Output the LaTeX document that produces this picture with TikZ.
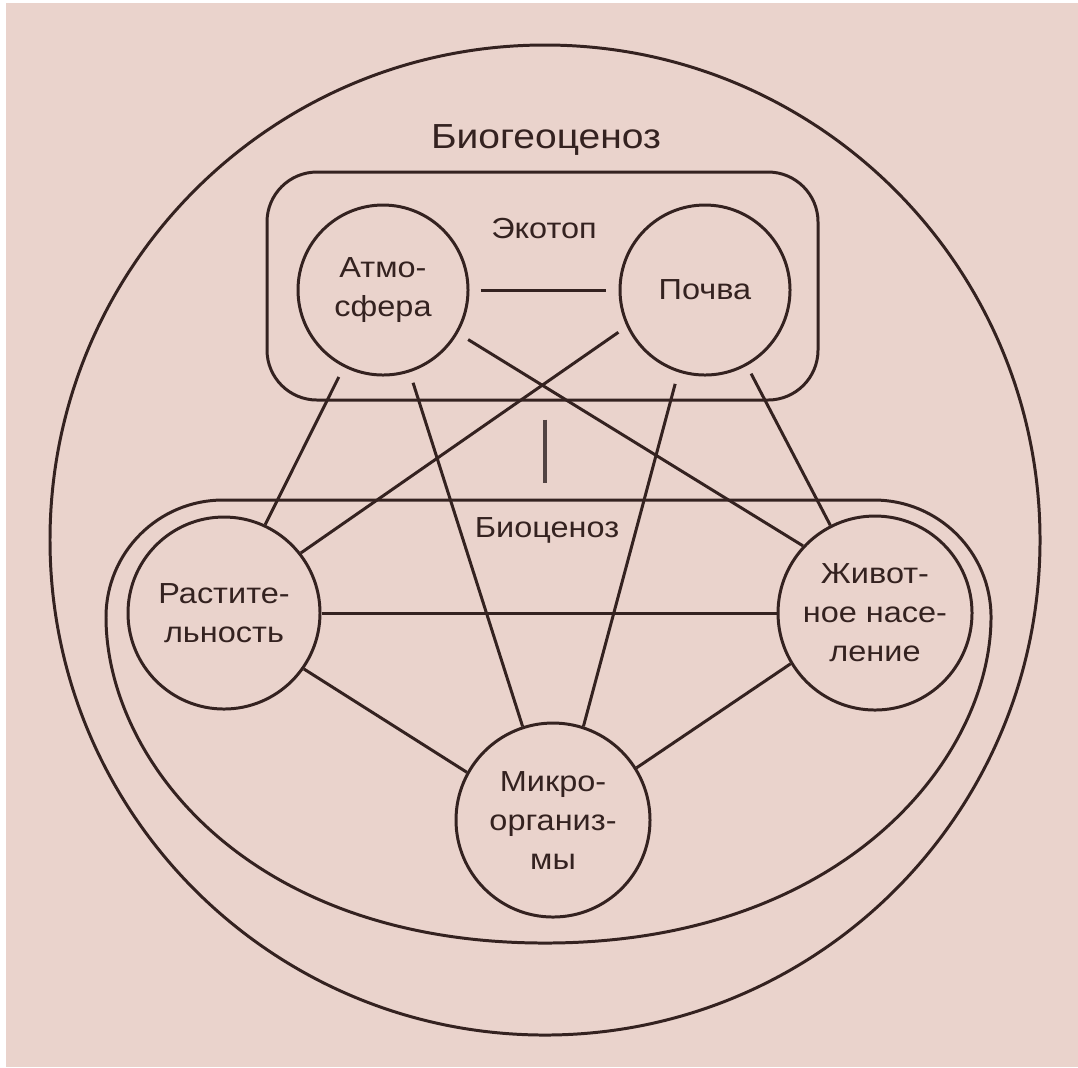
\documentclass[tikz,border=0pt]{standalone}
\usepackage{fontspec}
\setmainfont{Liberation Sans}[FakeStretch=1.12]
\usetikzlibrary{calc}
\definecolor{bg}{RGB}{234,211,204}
\definecolor{ink}{RGB}{52,34,32}
\tikzset{
  ln/.style={draw=ink, line width=0.85pt},
  bub/.style={circle, draw=ink, line width=0.85pt, inner sep=0pt, align=center, text=ink,
    font=\fontsize{8.25pt}{11.1pt}\selectfont},
  lbl/.style={text=ink, inner sep=0pt, font=\fontsize{8.25pt}{11.1pt}\selectfont},
  ttl/.style={text=ink, inner sep=0pt, font=\fontsize{9.9pt}{12pt}\selectfont},
  gapA/.style={shorten <=0.11cm}
}
\begin{document}
\begin{tikzpicture}
\useasboundingbox (0,0) rectangle (10.78,-10.67);
\fill[white] (0,0) rectangle (10.78,-10.67);
\fill[bg] (0.06,-0.03) rectangle (10.78,-10.67);

% outer circle
\node[circle, draw=ink, line width=0.85pt, minimum size=9.90cm, inner sep=0pt] (bgc) at (5.45,-5.40) {};
\node[ttl] (bgct) at (5.46,-1.40) {Биогеоценоз};

% ecotope rectangle
\node[draw=ink, line width=0.85pt, rounded corners=0.5cm, minimum width=5.51cm, minimum height=2.28cm, inner sep=0pt] (eco) at (5.425,-2.86) {};
\node[lbl] (ecot) at (5.44,-2.28) {Экотоп};

% nodes
\node[bub, minimum size=1.70cm] (A) at (3.83,-2.90) {Атмо-\\сфера};
\node[bub, minimum size=1.70cm] (P) at (7.05,-2.90) {Почва};
\node[bub, minimum size=1.92cm] (R) at (2.24,-6.13) {Растите-\\льность};
\node[bub, minimum size=1.94cm] (Z) at (8.75,-6.13) {Живот-\\ное насе-\\ление};
\node[bub, minimum size=1.94cm] (M) at (5.53,-8.20) {Микро-\\организ-\\мы};

% biocenosis outline
\coordinate (hl) at (2.23,-6.17);
\coordinate (hr) at (8.74,-6.17);
\coordinate (hb) at (5.45,-9.43);
\draw[ink, line width=0.85pt] ($(hl)+(90:1.17)$) -- ($(hr)+(90:1.17)$)
  arc[start angle=90, end angle=0, radius=1.17cm]
  .. controls (9.91,-7.57) and (8.45,-9.43) .. (hb)
  .. controls (2.45,-9.43) and (1.06,-7.57) .. (1.06,-6.17)
  arc[start angle=180, end angle=90, radius=1.17cm] -- cycle;
\node[lbl] (biot) at (5.47,-5.30) {Биоценоз};

% link between ecotope and biocenosis
\coordinate (biotop) at (5.45,-5.00);
\draw[ink!85!white, line width=1.1pt, shorten <=0.18cm, shorten >=0.17cm] (eco.south -| biotop) -- (biotop);

% connectors
\draw[ln, shorten <=0.11cm, shorten >=0.13cm] (A.east) -- (P.west);
\draw[ln, gapA] (A.243) -- (R.65);
\draw[ln, gapA] (A.288) -- (M.108);
\draw[ln, shorten <=0.12cm] (A.330) -- (Z.137);
\draw[ln, shorten <=0.10cm] (P.205) -- (R.38);
\draw[ln, shorten <=0.12cm] (P.252) -- (M.72);
\draw[ln, shorten <=0.09cm] (P.299) -- (Z.117);
\draw[ln] (R.east) -- (Z.west);
\draw[ln] (R.325) -- (M.151);
\draw[ln] (Z.211) -- (M.32);
\end{tikzpicture}
\end{document}
